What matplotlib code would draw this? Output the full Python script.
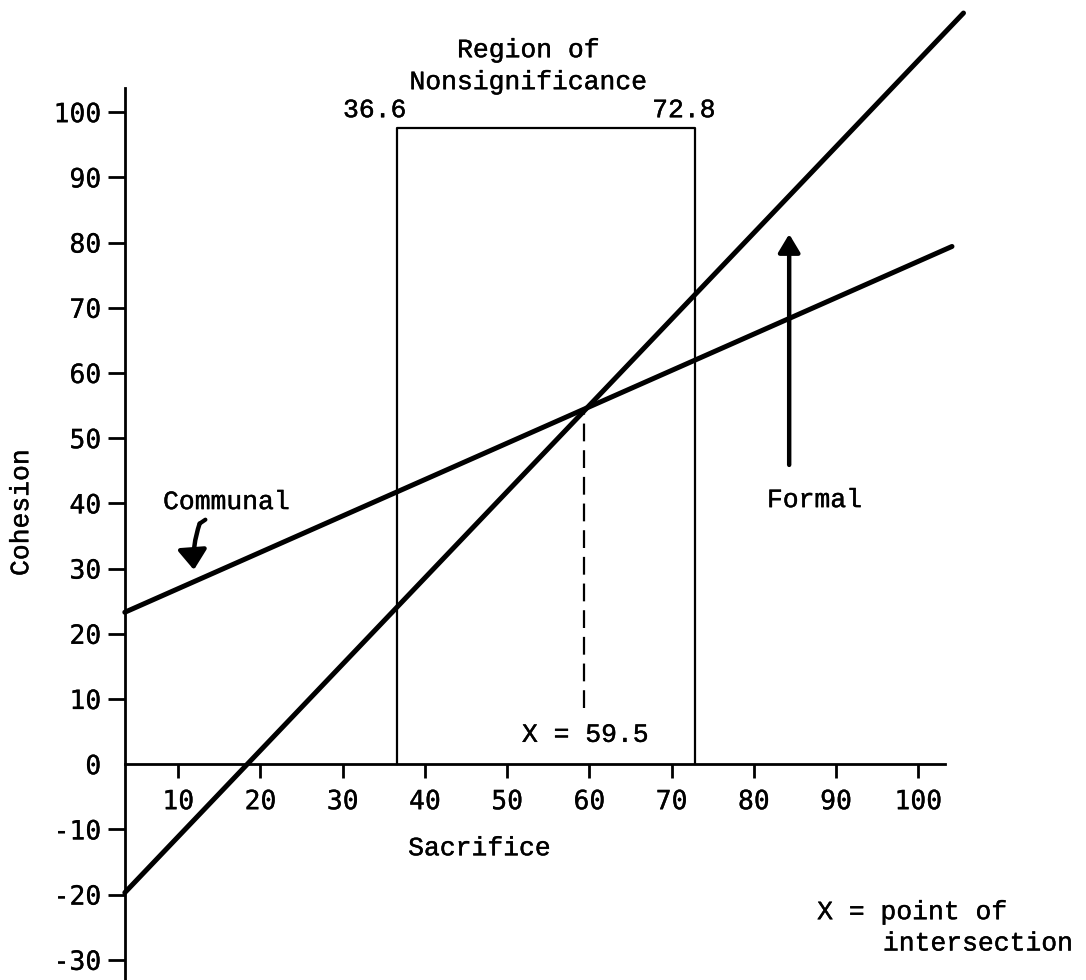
import matplotlib
matplotlib.use("Agg")
import matplotlib.pyplot as plt
import matplotlib.patheffects as pe

# values
x_ticks = [10, 20, 30, 40, 50, 60, 70, 80, 90, 100]
y_ticks = [-30, -20, -10, 0, 10, 20, 30, 40, 50, 60, 70, 80, 90, 100]
y_tick_labels = ["-30", "-20", "-10", "0", "10", "20", "30", "40", "50",
                 "60", "70", "80", "90", "100"]

communal_x = [3.5, 104.1]
communal_y = [23.3, 79.4]
formal_x = [3.5, 105.5]
formal_y = [-19.7, 115.2]

region_low = 36.6
region_high = 72.8
region_top = 97.5
intersect_x = 59.3
intersect_y = 54.6

mono = "Liberation Mono"
tick_font = "DejaVu Sans Mono"
# typewriter ink is a bit heavier than the plain font
ink = [pe.withStroke(linewidth=0.3, foreground="black")]

fig = plt.figure(figsize=(10.86, 9.8), dpi=100)
ax = fig.add_axes([0, 0, 1, 1])
ax.set_xlim(-11.68, 120.4)
ax.set_ylim(-33.1, 117.2)

# axes drawn like the hand-made original
for s in ["top", "right"]:
    ax.spines[s].set_visible(False)
ax.spines["left"].set_position(("data", 3.5))
ax.spines["left"].set_bounds(-35, 103.7)
ax.spines["bottom"].set_position(("data", 0))
ax.spines["bottom"].set_bounds(3.5, 103.3)
for s in ["left", "bottom"]:
    ax.spines[s].set_linewidth(2.0)

ax.set_xticks(x_ticks)
ax.set_xticklabels([str(v) for v in x_ticks], fontfamily=tick_font)
ax.set_yticks(y_ticks)
ax.set_yticklabels(y_tick_labels, fontfamily=tick_font)
ax.tick_params(axis="x", direction="out", length=10, width=2.0, pad=8, labelsize=19)
ax.tick_params(axis="y", direction="out", length=12, width=2.0, pad=5, labelsize=19)
# no tick mark at 0 on the y axis
ax.yaxis.get_major_ticks()[y_ticks.index(0)].tick1line.set_visible(False)
for lab in ax.get_xticklabels() + ax.get_yticklabels():
    lab.set_path_effects([pe.withStroke(linewidth=0.2, foreground="black")])

# regression lines
ax.plot(communal_x, communal_y, color="black", lw=3.6, solid_capstyle="round", clip_on=False)
ax.plot(formal_x, formal_y, color="black", lw=3.6, solid_capstyle="round", clip_on=False)

# region of nonsignificance box
ax.plot([region_low, region_low, region_high, region_high],
        [0, region_top, region_top, 0], color="black", lw=1.6)

# dashed drop line from the intersection
ax.plot([intersect_x, intersect_x], [8.6, intersect_y], color="black", lw=1.6,
        dashes=(8, 4))

# text
txt = dict(fontfamily=mono, fontsize=19, va="center", path_effects=ink)
ax.text(52.6, 109.5, "Region of", ha="center", **txt)
ax.text(52.6, 104.6, "Nonsignificance", ha="center", **txt)
ax.text(33.9, 100.3, str(region_low), ha="center", **txt)
ax.text(71.5, 100.3, str(region_high), ha="center", **txt)
ax.text(8.15, 40.2, "Communal", ha="left", **txt)
ax.text(81.6, 40.5, "Formal", ha="left", **txt)
ax.text(51.8, 4.5, "X = 59.5", ha="left", **txt)
ax.text(37.96, -12.9, "Sacrifice", ha="left", **txt)
ax.text(-9.1, 38.6, "Cohesion", ha="center", rotation=90, **txt)
ax.text(87.7, -22.7, "X = point of", ha="left", **txt)
ax.text(95.7, -27.5, "intersection", ha="left", **txt)

# hand-drawn arrows
ax.annotate("", xy=(11.9, 29.8), xytext=(12.6, 36.9),
            arrowprops=dict(arrowstyle="-|>,head_length=0.55,head_width=0.4",
                            color="black", lw=3.2, mutation_scale=22,
                            shrinkA=0, shrinkB=0,
                            connectionstyle="arc3,rad=0.1"))
ax.plot([12.6, 13.3], [36.9, 37.5], color="black", lw=3.0, solid_capstyle="round")
ax.annotate("", xy=(84.3, 81.3), xytext=(84.3, 45.9),
            arrowprops=dict(arrowstyle="-|>,head_length=0.5,head_width=0.3",
                            color="black", lw=3.2, mutation_scale=22,
                            shrinkA=0, shrinkB=0))

fig.savefig("out.png", dpi=100, facecolor="white")
